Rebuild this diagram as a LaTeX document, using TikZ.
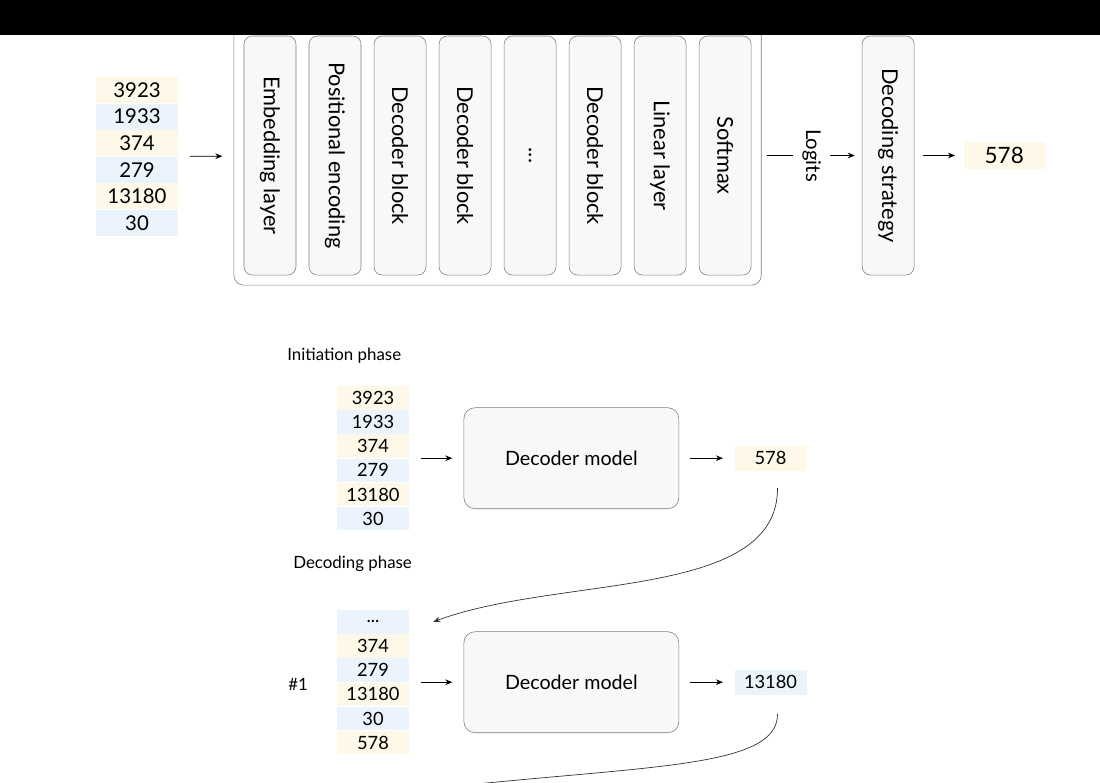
\documentclass[tikz,border=0pt]{standalone}
\usepackage{fontspec}
\setmainfont{Lato}
\usetikzlibrary{arrows.meta, fit, positioning, shapes}
\definecolor{my_yellow}{RGB}{253, 248, 232}
\definecolor{my_blue}{RGB}{235, 243, 252}
\definecolor{my_gray}{RGB}{125, 125, 125}
\definecolor{my_fill}{RGB}{248, 248, 248}
\newcommand{\vlabel}[1]{\rotatebox{-90}{#1}}
\tikzset {
  stackbox/.style = {draw=my_gray, thin, rounded corners=7pt, rectangle},
  layer/.style = {draw=my_gray, thin, fill=my_fill, rounded corners=6pt, rectangle, minimum width=1.3cm, minimum height=5.975cm, inner sep=0pt, font=\fontsize{15.5}{18}\selectfont},
  token/.style = {rectangle, inner sep=0pt, minimum width=2.05cm, minimum height=0.65cm, font=\fontsize{14.5}{17}\selectfont},
  smalltoken/.style = {token, minimum width=1.8cm, minimum height=0.59cm, font=\fontsize{13}{15}\selectfont},
  model/.style = {draw=my_gray, thin, fill=my_fill, rounded corners=8pt, rectangle, minimum width=5.375cm, minimum height=2.525cm, font=\fontsize{14}{16}\selectfont},
  phase/.style = {anchor=west, inner sep=0pt, font=\fontsize{12}{14}\selectfont},
  line/.style = {->, line width=0.6pt, color=black, shorten <=8pt, shorten >=8pt, >={Stealth[length=5pt, width=4pt]}},
  feedback/.style = {->, line width=0.5pt, color=black!80, >={Stealth[length=5pt, width=4pt]}},
}
\pgfdeclarelayer{foreground}
\pgfsetlayers{main,foreground}

\begin{document}
\begin{tikzpicture}[x=0.025cm, y=-0.025cm]
    \useasboundingbox (0,0) rectangle (1100,783);
    \clip (0,0) rectangle (1100,783);

    % full forward pass
    \node[token, fill=my_yellow] (p1) at (137,90) {3923};
    \node[token, fill=my_blue, below=0pt of p1] (p2) {1933};
    \node[token, fill=my_yellow, below=0pt of p2] (p3) {374};
    \node[token, fill=my_blue, below=0pt of p3] (p4) {279};
    \node[token, fill=my_yellow, below=0pt of p4] (p5) {13180};
    \node[token, fill=my_blue, below=0pt of p5] (p6) {30};
    \node[fit=(p1)(p6), inner sep=0pt] (prompt) {};

    \node[layer] (emb) at (270,155.5) {\vlabel{Embedding layer}};
    \node[layer, right=0.311cm of emb] (pos) {\vlabel{Positional encoding}};
    \node[layer, right=0.311cm of pos] (dec1) {\vlabel{Decoder block}};
    \node[layer, right=0.311cm of dec1] (dec2) {\vlabel{Decoder block}};
    \node[layer, right=0.311cm of dec2] (dots) {\vlabel{...}};
    \node[layer, right=0.311cm of dots] (decn) {\vlabel{Decoder block}};
    \node[layer, right=0.311cm of decn] (lin) {\vlabel{Linear layer}};
    \node[layer, right=0.311cm of lin] (soft) {\vlabel{Softmax}};
    \node[stackbox, fit=(emb)(soft), inner sep=7pt] (stack) {};

    \node[layer, right=2.76cm of soft] (strategy) {\vlabel{Decoding strategy}};
    \node[token, fill=my_yellow, right=1.225cm of strategy, minimum width=2.025cm, font=\fontsize{16}{18}\selectfont] (next) {578};

    \draw[line] (prompt) -- (stack);
    \draw[line, shorten <=4pt, shorten >=5pt] (stack) -- node[fill=white, inner xsep=6.5pt, inner ysep=0pt, font=\fontsize{14.5}{17}\selectfont] {\vlabel{Logits}} (strategy);
    \draw[line, shorten <=6pt, shorten >=6pt] (strategy) -- (next);

    % initiation phase
    \node[phase] (init) at (287,356) {Initiation phase};
    \node[smalltoken, fill=my_yellow] (a1) at (373,397.8) {3923};
    \node[smalltoken, fill=my_blue, below=0pt of a1] (a2) {1933};
    \node[smalltoken, fill=my_yellow, below=0pt of a2] (a3) {374};
    \node[smalltoken, fill=my_blue, below=0pt of a3] (a4) {279};
    \node[smalltoken, fill=my_yellow, below=0pt of a4] (a5) {13180};
    \node[smalltoken, fill=my_blue, below=0pt of a5] (a6) {30};
    \node[fit=(a1)(a6), inner sep=0pt] (seq1) {};
    \node[model, right=1.35cm of seq1] (model1) {Decoder model};
    \node[smalltoken, fill=my_yellow, right=1.375cm of model1, minimum height=0.625cm] (out1) {578};

    \draw[line] (seq1) -- (model1);
    \draw[line] (model1) -- (out1);

    % decoding phase
    \node[phase] (decode) at (293,564) {Decoding phase};
    \node[smalltoken, fill=my_blue] (b1) at (373,621.8) {...};
    \node[smalltoken, fill=my_yellow, below=0pt of b1] (b2) {374};
    \node[smalltoken, fill=my_blue, below=0pt of b2] (b3) {279};
    \node[smalltoken, fill=my_yellow, below=0pt of b3] (b4) {13180};
    \node[smalltoken, fill=my_blue, below=0pt of b4] (b5) {30};
    \node[smalltoken, fill=my_yellow, below=0pt of b5] (b6) {578};
    \node[fit=(b1)(b6), inner sep=0pt] (seq2) {};
    \node[phase] (step1) at (288,684) {\#1};
    \node[model, right=1.35cm of seq2] (model2) {Decoder model};
    \node[smalltoken, fill=my_blue, right=1.375cm of model2, minimum height=0.625cm] (out2) {13180};

    \draw[line] (seq2) -- (model2);
    \draw[line] (model2) -- (out2);

    % feed the new token back
    \coordinate (next_step) at (420,790);
    \draw[feedback] ([xshift=0.175cm, yshift=-0.425cm]out1.south) .. controls (778,600) and (560,575) .. ([xshift=0.6cm]b1.east);
    \draw[feedback, -] ([xshift=0.175cm, yshift=-0.475cm]out2.south) .. controls (778,770) and (640,765) .. (next_step);

    \begin{pgfonlayer}{foreground}
      \fill[black] (0,0) rectangle (1100,35);
    \end{pgfonlayer}

\end{tikzpicture}
\end{document}
